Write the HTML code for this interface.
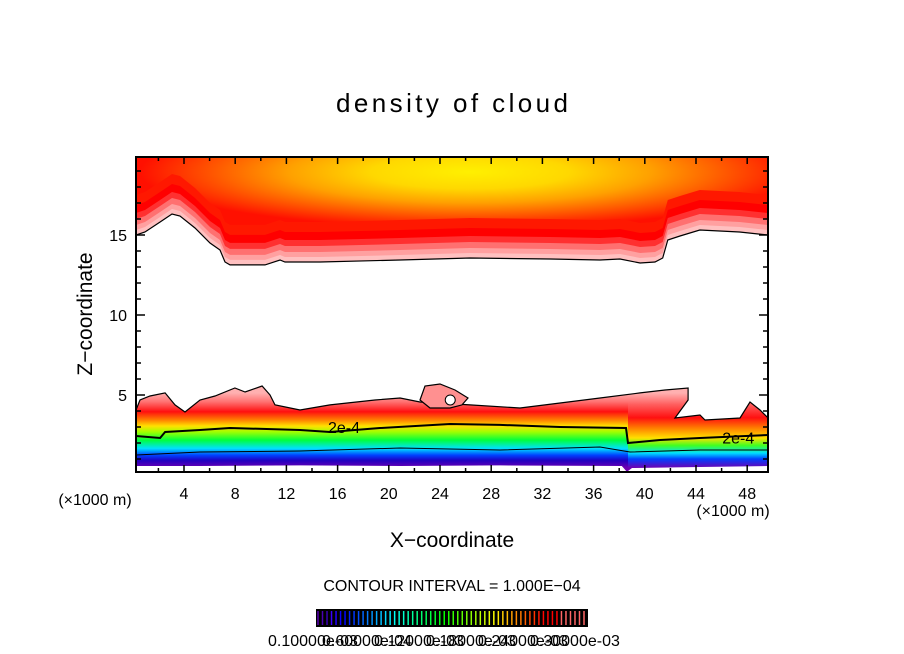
<!DOCTYPE html>
<html><head><meta charset="utf-8"><style>
html,body{margin:0;padding:0;background:#fff;}
svg{display:block;font-family:"Liberation Sans",sans-serif;}
</style></head><body>
<svg id="chart" width="904" height="654" viewBox="0 0 904 654">
<defs>
  <radialGradient id="topGrad" gradientUnits="userSpaceOnUse" cx="470" cy="172" r="330" gradientTransform="translate(470 172) scale(1 0.17) translate(-470 -172)">
    <stop offset="0" stop-color="#fff000"/>
    <stop offset="0.3" stop-color="#ffd800"/>
    <stop offset="0.55" stop-color="#ffa000"/>
    <stop offset="0.8" stop-color="#ff5000"/>
    <stop offset="1" stop-color="#ff1000"/>
  </radialGradient>
  <linearGradient id="botLeft" gradientUnits="userSpaceOnUse" x1="0" y1="393" x2="0" y2="468">
    <stop offset="0" stop-color="#ffb0b0"/>
    <stop offset="0.12" stop-color="#ff7070"/>
    <stop offset="0.25" stop-color="#ff1010"/>
    <stop offset="0.36" stop-color="#ff8000"/>
    <stop offset="0.44" stop-color="#ffe000"/>
    <stop offset="0.52" stop-color="#a0ff00"/>
    <stop offset="0.63" stop-color="#00ff40"/>
    <stop offset="0.74" stop-color="#00e0ff"/>
    <stop offset="0.83" stop-color="#0040ff"/>
    <stop offset="0.9" stop-color="#2000c0"/>
    <stop offset="1" stop-color="#7000b0"/>
  </linearGradient>
  <linearGradient id="botRight" gradientUnits="userSpaceOnUse" x1="0" y1="393" x2="0" y2="468">
    <stop offset="0" stop-color="#ffb0b0"/>
    <stop offset="0.15" stop-color="#ff6060"/>
    <stop offset="0.33" stop-color="#ff1010"/>
    <stop offset="0.47" stop-color="#ff8000"/>
    <stop offset="0.6" stop-color="#ffe000"/>
    <stop offset="0.7" stop-color="#40ff20"/>
    <stop offset="0.8" stop-color="#00e0ff"/>
    <stop offset="0.88" stop-color="#0040ff"/>
    <stop offset="1" stop-color="#7000b0"/>
  </linearGradient>
  <clipPath id="plotClip"><rect x="136" y="157" width="632" height="315"/></clipPath>
  <clipPath id="leftClip"><rect x="136" y="157" width="492" height="315"/></clipPath>
  <clipPath id="rightClip"><rect x="628" y="157" width="140" height="315"/></clipPath>
</defs>
<text x="452" y="112" font-size="26" text-anchor="middle" textLength="232">density of cloud</text>
<g id="plot" clip-path="url(#plotClip)"></g>
<rect x="136" y="157" width="632" height="315" fill="none" stroke="#000" stroke-width="2"/>
<g id="axes"></g>
<text x="95" y="505" font-size="16" text-anchor="middle">(×1000 m)</text>
<text x="733" y="516" font-size="16" text-anchor="middle">(×1000 m)</text>
<text x="452" y="547" font-size="21" text-anchor="middle">X−coordinate</text>
<text x="0" y="0" font-size="21" text-anchor="middle" transform="translate(92 314) rotate(-90)">Z−coordinate</text>
<text x="452" y="591" font-size="16" text-anchor="middle">CONTOUR INTERVAL = 1.000E−04</text>
<rect x="316" y="609" width="272" height="18" fill="#000"/>
<g id="cbar"></g>
<g font-size="16">
<text x="268" y="646">0.10000e-03</text>
<text x="322" y="646">0.60000e-04</text>
<text x="374" y="646">0.12000e-03</text>
<text x="426" y="646">0.18000e-03</text>
<text x="478" y="646">0.24000e-03</text>
<text x="530" y="646">0.30000e-03</text>
</g>
<script>
const xTicks=[4,8,12,16,20,24,28,32,36,40,44,48];
const zTicks=[5,10,15];
const topEdgeX=[0.25,0.95,2.13,3.06,3.69,4.86,6.03,6.81,7.2,7.59,10.33,11.5,11.89,14.63,20.88,26.34,32.6,36.5,38.06,39.63,40.8,41.4,41.8,42.75,44.3,47.4,49.6];
const topEdgeZ=[15.0,15.19,15.81,16.31,16.19,15.44,14.5,14.06,13.31,13.13,13.13,13.44,13.31,13.31,13.44,13.56,13.5,13.44,13.5,13.25,13.31,13.56,14.69,14.94,15.31,15.19,15.0];
const lowTopX=[0.25,0.56,1.34,2.52,3.3,4.08,5.25,6.42,7.98,8.77,10.1,10.72,11.11,13.06,15.41,18.92,20.88,22.44,26.34,30.25,33.38,36.5,39.63,41.58,43.38,43.38,42.36,44.31,44.7,47.44,48.22,49.0,49.63];
const lowTopZ=[4.06,4.69,4.94,5.13,4.38,3.94,4.69,4.94,5.44,5.19,5.56,5.0,4.38,4.06,4.38,4.69,4.81,4.56,4.38,4.19,4.5,4.81,5.13,5.31,5.44,4.69,3.56,3.75,3.44,3.56,4.56,4.06,3.56];
const lowBotX=[49.63,44.3,39.0,38.6,38.2,28.7,20.9,13.1,5.25,0.25];
const lowBotZ=[0.56,0.5,0.44,0.2,0.56,0.6,0.56,0.6,0.56,0.56];
const blobX=[22.44,22.83,24.0,25.17,26.19,25.72,24.78,23.22];
const blobZ=[4.69,5.56,5.69,5.31,4.81,4.38,4.19,4.19];
const c2X=[0.25,2.13,2.52,5.25,7.59,13.06,15.41,19.31,24.78,28.69,33.38,38.53,38.69,41.19,44.31,49.63];
const c2Z=[2.44,2.31,2.69,2.81,2.94,2.81,2.69,2.94,3.19,3.13,3.0,2.94,2.0,2.19,2.31,2.5];
const c1X=[0.25,5.25,13.06,20.88,28.69,36.5,38.84,44.31,49.63];
const c1Z=[1.25,1.44,1.5,1.69,1.56,1.75,1.44,1.56,1.56];
const cbarLevels=[0.1,0.15,0.2,0.25,0.3,0.35,0.4,0.45,0.5,0.55,0.6,0.65,0.7,0.75,0.8,0.85,0.9,0.95,1.0,1.05,1.1,1.15,1.2,1.25,1.3,1.35,1.4,1.45,1.5,1.55,1.6,1.65,1.7,1.75,1.8,1.85,1.9,1.95,2.0,2.05,2.1,2.15,2.2,2.25,2.3,2.35,2.4,2.45,2.5,2.55,2.6,2.65,2.7,2.75,2.8,2.85,2.9,2.95,3.0,3.05];

const NS='http://www.w3.org/2000/svg';
const X=x=>184+(x-4)*12.8;
const Z=z=>395-(z-5)*16;
function mk(tag,attrs,parent){const e=document.createElementNS(NS,tag);for(const k in attrs)e.setAttribute(k,attrs[k]);parent.appendChild(e);return e;}
function pts(xs,zs,dz){return xs.map((x,i)=>X(x).toFixed(1)+','+(Z(zs[i])-(dz||0)).toFixed(1)).join(' ');}
const plot=document.getElementById('plot');
const topTop=' 768,150 136,150';
const layers=[[0,'#ffc0c0'],[5,'#ffa0a0'],[10,'#ff7070'],[16,'#ff3030'],[22,'#ff0000'],[30,'#ff1800'],[40,'url(#topGrad)']];
layers.forEach((l,i)=>{
  const p=mk('polygon',{points:pts(topEdgeX,topEdgeZ,l[0])+topTop,fill:l[1]},plot);
  
  
});
const tl=mk('polyline',{points:pts(topEdgeX,topEdgeZ),fill:'none',stroke:'#000','stroke-width':1.2},plot);


const lowPts=pts(lowTopX,lowTopZ)+' '+pts(lowBotX,lowBotZ);
const g1=mk('polygon',{points:lowPts,fill:'url(#botLeft)','clip-path':'url(#leftClip)'},plot);


const g2=mk('polygon',{points:lowPts,fill:'url(#botRight)','clip-path':'url(#rightClip)'},plot);


const le=mk('polyline',{points:pts(lowTopX,lowTopZ),fill:'none',stroke:'#000','stroke-width':1.2},plot);


const blob=mk('polygon',{points:pts(blobX,blobZ),fill:'#ff9090',stroke:'#000','stroke-width':1.2},plot);


const hole=mk('circle',{cx:X(24.8),cy:Z(4.69),r:5,fill:'#fff',stroke:'#000','stroke-width':1},plot);


const c2=mk('polyline',{points:pts(c2X,c2Z),fill:'none',stroke:'#000','stroke-width':2},plot);


const c1=mk('polyline',{points:pts(c1X,c1Z),fill:'none',stroke:'#000','stroke-width':1},plot);


[[16.5,3.0],[47.3,2.35]].forEach(l=>{
  const t=mk('text',{x:X(l[0]),y:Z(l[1])+6,'font-size':16,'text-anchor':'middle'},plot);
  t.textContent='2e-4';
  
  
});
const ax=document.getElementById('axes');
for(let x=2;x<=48;x+=2){
  const big=x%4===0, L=big?7:4;
  mk('line',{x1:X(x),x2:X(x),y1:472,y2:472-L,stroke:'#000','stroke-width':1.5},ax);
  mk('line',{x1:X(x),x2:X(x),y1:157,y2:157+L,stroke:'#000','stroke-width':1.5},ax);
}
for(let z=1;z<=19;z++){
  const big=z%5===0, L=big?9:5;
  mk('line',{x1:136,x2:136+L,y1:Z(z),y2:Z(z),stroke:'#000','stroke-width':1.5},ax);
  mk('line',{x1:768,x2:768-L,y1:Z(z),y2:Z(z),stroke:'#000','stroke-width':1.5},ax);
}
xTicks.forEach(v=>{
  const t=mk('text',{x:X(v),y:499,'font-size':16,'text-anchor':'middle'},ax);
  t.textContent=v;
  
  
});
zTicks.forEach(v=>{
  const t=mk('text',{x:127,y:Z(v)+6,'font-size':16,'text-anchor':'end'},ax);
  t.textContent=v;
  
  
});
const cb=document.getElementById('cbar');
const n=cbarLevels.length, maxL=cbarLevels[n-1], minL=cbarLevels[0];
cbarLevels.forEach((v,i)=>{
  const f=(v-minL)/(maxL-minL);
  const hue=f<0.85?(270-f/0.85*270):0;
  const light=f<0.05?35:(f>0.9?70:50);
  const x=318+f*266;
  const ln=mk('line',{x1:x,x2:x,y1:611,y2:625,stroke:'hsl('+hue.toFixed(0)+',100%,'+light+'%)','stroke-width':1.5},cb);
  
  
});
</script>
</svg>
</body></html>
